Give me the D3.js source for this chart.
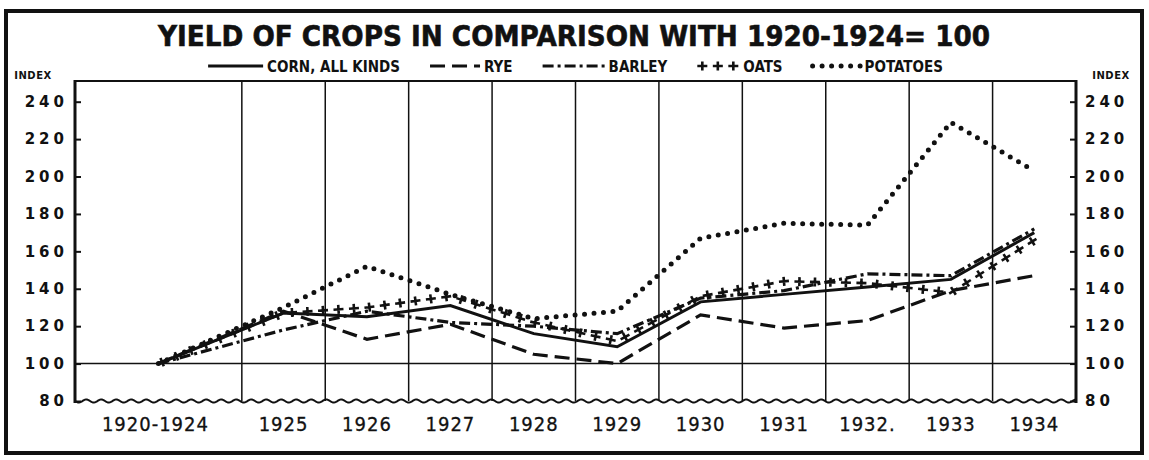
<!DOCTYPE html>
<html>
<head>
<meta charset="utf-8">
<style>
  body { margin: 0; background: #fff; }
  svg { display: block; }
  text { fill: #111; }
</style>
</head>
<body>
<svg id="svg"></svg>
<script src="https://d3js.org/d3.v7.min.js"></script>
<script>
  var width = 1149,
    height = 460;

  // data (index, 1920-1924 = 100)
  var years = ["1920-1924", "1925", "1926", "1927", "1928", "1929", "1930", "1931", "1932.", "1933", "1934"];
  var corn = [100, 127, 125, 131, 116, 109, 133, 137, 141, 145, 170];
  var rye = [100, 128, 113, 121, 105, 100, 126, 119, 123, 139, 147];
  var barley = [100, 118, 128, 122, 120, 116, 135, 139, 148, 147, 172];
  var oats = [100, 127, 130, 136, 122, 112, 136, 144, 143, 138, 166];
  var potatoes = [100, 130, 152, 137, 124, 128, 167, 175, 174, 229, 203];
  var yTicks = [80, 100, 120, 140, 160, 180, 200, 220, 240];

  var series = [
    { name: "CORN, ALL KINDS", values: corn, style: "solid" },
    { name: "RYE", values: rye, style: "dash" },
    { name: "BARLEY", values: barley, style: "dashdot" },
    { name: "OATS", values: oats, style: "cross" },
    { name: "POTATOES", values: potatoes, style: "dots" }
  ];

  var condensed = "'DejaVu Sans Condensed', 'Liberation Sans Narrow', 'DejaVu Sans', sans-serif";

  var svg = d3.select("#svg").attr("width", width).attr("height", height);

  var plotLeft = 75, plotRight = 1076, plotTop = 81, plotBottom = 401;

  // first column is a 5-year average and takes two units of width
  function span(i) { return i === 0 ? 2 : 1; }
  function start(i) { return i === 0 ? 0 : i + 1; }
  var units = years.length + 1;

  var x = d3.scaleLinear().domain([0, units]).range([plotLeft, plotRight]);
  var y = d3.scaleLinear().domain([80, 240]).range([plotBottom, 101.7]);
  var cx = function (i) { return x(start(i) + span(i) / 2); };

  // outer frame
  svg.append("rect")
    .attr("x", 6).attr("y", 11).attr("width", 1136).attr("height", 442)
    .attr("fill", "none").attr("stroke", "#111").attr("stroke-width", 4);

  // title
  svg.append("text")
    .attr("x", 574).attr("y", 46)
    .attr("text-anchor", "middle")
    .attr("textLength", 832).attr("lengthAdjust", "spacingAndGlyphs")
    .style("font-family", "'DejaVu Sans', sans-serif")
    .style("font-weight", "bold")
    .style("font-size", "28px")
    .style("stroke", "#111").style("stroke-width", 0.6)
    .text("YIELD OF CROPS IN COMPARISON WITH 1920-1924= 100");

  // vertical grid lines between columns
  var bounds = d3.range(2, units);
  svg.append("g").selectAll("line").data(bounds).enter().append("line")
    .attr("x1", function (d) { return x(d); })
    .attr("x2", function (d) { return x(d); })
    .attr("y1", plotTop).attr("y2", plotBottom)
    .attr("stroke", "#111").attr("stroke-width", 1.5);

  // base line at 100
  svg.append("line")
    .attr("x1", plotLeft).attr("x2", plotRight)
    .attr("y1", y(100)).attr("y2", y(100))
    .attr("stroke", "#111").attr("stroke-width", 1.5);

  // top border of plot
  svg.append("line")
    .attr("x1", plotLeft - 1).attr("x2", plotRight + 1)
    .attr("y1", plotTop).attr("y2", plotTop)
    .attr("stroke", "#111").attr("stroke-width", 2);

  // wavy broken-axis bottom
  var wave = d3.range(plotLeft, plotRight + 0.5, 1).map(function (px) {
    return [px, plotBottom + 1.6 * Math.sin((px - plotLeft) / 15 * 2 * Math.PI)];
  });
  svg.append("path")
    .attr("d", d3.line()(wave))
    .attr("fill", "none").attr("stroke", "#111").attr("stroke-width", 2);

  // y axes
  var yLeft = svg.append("g")
    .attr("transform", "translate(" + plotLeft + ",0)")
    .call(d3.axisLeft(y).tickValues(yTicks).tickSize(-6).tickPadding(11));
  var yRight = svg.append("g")
    .attr("transform", "translate(" + plotRight + ",0)")
    .call(d3.axisRight(y).tickValues(yTicks).tickSize(-6).tickPadding(9));

  [yLeft, yRight].forEach(function (ax) {
    ax.select(".domain").remove();
    ax.selectAll(".tick line").attr("stroke", "#111").attr("stroke-width", 2);
    ax.selectAll(".tick text")
      .style("font-family", "'DejaVu Sans', sans-serif")
      .style("font-weight", "bold")
      .style("font-size", "15px")
      .style("letter-spacing", "4px")
      .attr("fill", "#111");
  });
  yLeft.selectAll(".tick text").attr("dx", 4);

  svg.append("line")
    .attr("x1", plotLeft).attr("x2", plotLeft)
    .attr("y1", plotTop - 1).attr("y2", plotBottom + 2)
    .attr("stroke", "#111").attr("stroke-width", 3);
  svg.append("line")
    .attr("x1", plotRight).attr("x2", plotRight)
    .attr("y1", plotTop - 1).attr("y2", plotBottom + 2)
    .attr("stroke", "#111").attr("stroke-width", 3);

  // INDEX labels
  [33, 1111].forEach(function (px) {
    svg.append("text")
      .attr("x", px).attr("y", 79)
      .attr("text-anchor", "middle")
      .style("font-family", "'DejaVu Sans', sans-serif")
      .style("font-weight", "bold")
      .style("font-size", "10px")
      .style("letter-spacing", "0.5px")
      .text("INDEX");
  });

  // x labels
  svg.append("g").selectAll("text").data(years).enter().append("text")
    .attr("x", function (d, i) { return cx(i) - (i === 0 ? 3 : 0); })
    .attr("y", 431)
    .attr("text-anchor", "middle")
    .style("font-family", condensed)
    .style("font-size", "20px")
    .style("letter-spacing", "1px")
    .style("stroke", "#111").style("stroke-width", 0.3)
    .text(function (d) { return d; });

  // line styling
  function styleLine(sel, style) {
    sel.attr("fill", "none").attr("stroke", "#111");
    if (style === "solid") {
      sel.attr("stroke-width", 3);
    } else if (style === "dash") {
      sel.attr("stroke-width", 3.2).attr("stroke-dasharray", "15 7");
    } else if (style === "dashdot") {
      sel.attr("stroke-width", 3.2).attr("stroke-dasharray", "11 4 3 4");
    } else if (style === "dots") {
      sel.attr("stroke-width", 5).attr("stroke-linecap", "round").attr("stroke-dasharray", "0 9.5");
    } else if (style === "cross") {
      sel.attr("stroke", "none");
    }
  }

  function crossesAlong(g, node, step, offset, arm) {
    var L = node.getTotalLength();
    for (var s = offset; s <= L + 0.1; s += step) {
      var p = node.getPointAtLength(s);
      var a = node.getPointAtLength(Math.max(0, s - 1));
      var b = node.getPointAtLength(Math.min(L, s + 1));
      var ang = Math.atan2(b.y - a.y, b.x - a.x) * 180 / Math.PI;
      g.append("path")
        .attr("transform", "translate(" + p.x + "," + p.y + ") rotate(" + ang + ")")
        .attr("d", "M" + (-arm) + ",0H" + arm + "M0," + (-arm + 0.5) + "V" + (arm - 0.5))
        .attr("stroke", "#111").attr("stroke-width", 2.6).attr("fill", "none");
    }
  }

  var line = d3.line()
    .x(function (d, i) { return cx(i); })
    .y(function (d) { return y(d); });

  var lines = svg.append("g");
  series.forEach(function (s) {
    var p = lines.append("path").attr("d", line(s.values));
    styleLine(p, s.style);
    if (s.style === "cross") crossesAlong(lines, p.node(), 15.5, 4, 5);
  });

  // legend
  var legendY = 72, sampleY = 66;
  var sampleW = { solid: 55, dash: 50, dashdot: 62, cross: 42, dots: 48 };
  var legend = svg.append("g");
  var items = [];
  series.forEach(function (s) {
    var g = legend.append("g");
    var w = sampleW[s.style];
    var sp = g.append("path").attr("d", d3.line()([[0, sampleY], [w, sampleY]]));
    styleLine(sp, s.style);
    if (s.style === "cross") crossesAlong(g, sp.node(), 15.5, 5, 5);
    var t = g.append("text")
      .attr("x", w + 4).attr("y", legendY)
      .style("font-family", condensed)
      .style("font-weight", "bold")
      .style("font-size", "15px")
      .text(s.name);
    items.push({ g: g, w: w + 4 + t.node().getComputedTextLength() });
  });
  var gap = 30;
  var total = d3.sum(items, function (d) { return d.w; }) + gap * (items.length - 1);
  var lx = (plotLeft + plotRight) / 2 - total / 2;
  items.forEach(function (it) {
    it.g.attr("transform", "translate(" + lx + ",0)");
    lx += it.w + gap;
  });
</script>
</body>
</html>
